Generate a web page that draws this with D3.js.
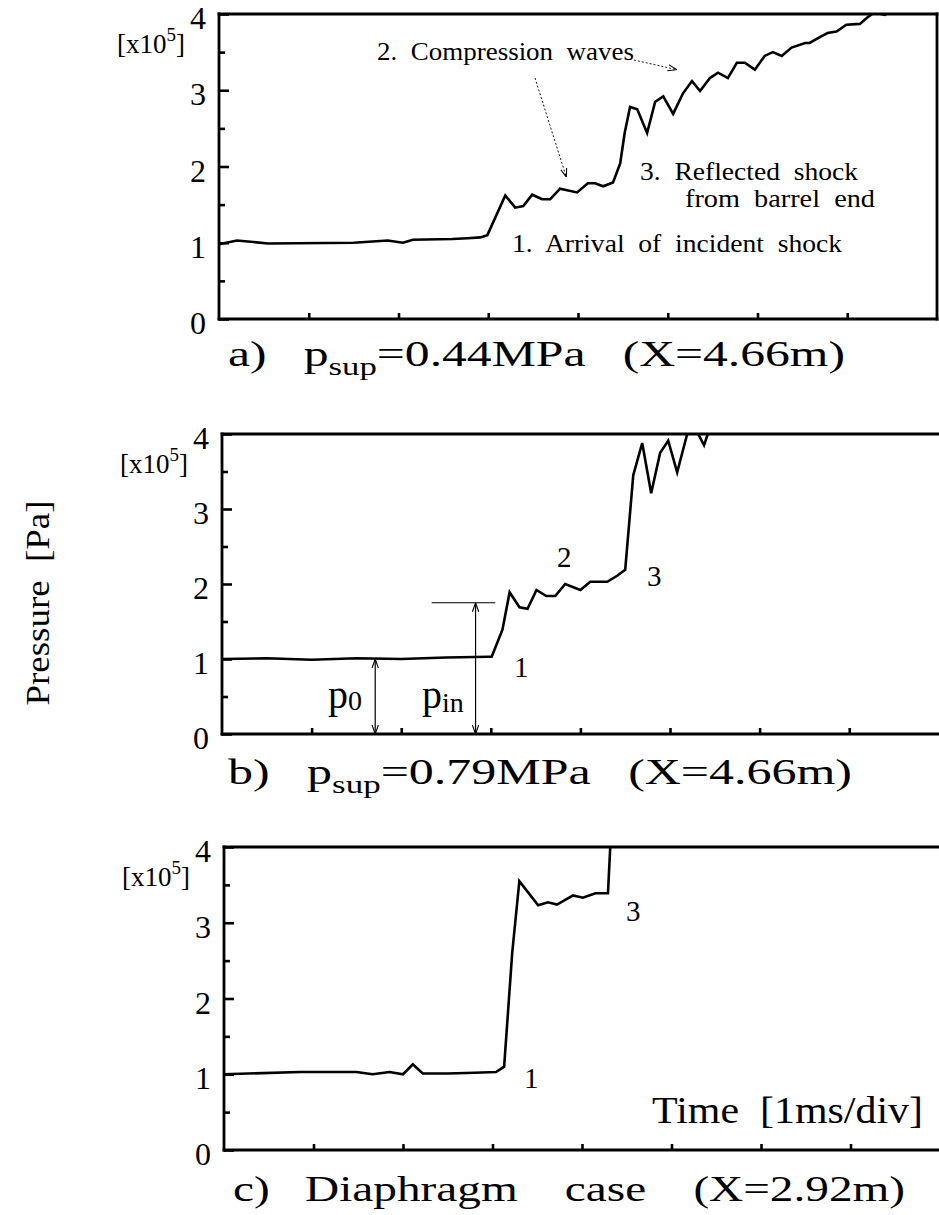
<!DOCTYPE html>
<html>
<head>
<meta charset="utf-8">
<script src="https://cdn.jsdelivr.net/npm/d3@7"></script>
<style>
  body { margin: 0; background: #fff; }
  svg { display: block; }
  text { font-family: "Liberation Serif", "DejaVu Serif", serif; fill: #000; white-space: pre; }
</style>
</head>
<body>
<svg id="chart" width="939" height="1215"></svg>
<script>
// Pressure histories: time in divisions (1 ms/div), pressure in units of 1e5 Pa.

// a) p_sup = 0.44 MPa, X = 4.66 m
const timeA = [0, 0.2, 0.55, 1.5, 1.88, 2.05, 2.16, 2.6, 2.77, 2.91, 2.99,
  3.19, 3.30, 3.39, 3.49, 3.60, 3.69, 3.80, 3.99, 4.11, 4.19, 4.28, 4.39,
  4.47, 4.52, 4.58, 4.66, 4.77, 4.86, 4.95, 5.06, 5.17, 5.27, 5.36, 5.47,
  5.56, 5.67, 5.77, 5.86, 5.97, 6.08, 6.17, 6.27, 6.38, 6.53, 6.58, 6.70,
  6.78, 6.88, 6.99, 7.14, 7.22, 7.30, 7.42, 7.55];
const pressureA = [0.98, 1.03, 0.99, 1.0, 1.03, 1.0, 1.04, 1.05, 1.06, 1.07, 1.10,
  1.62, 1.46, 1.48, 1.63, 1.57, 1.57, 1.71, 1.66, 1.78, 1.78, 1.74, 1.79,
  2.04, 2.44, 2.78, 2.75, 2.44, 2.85, 2.92, 2.69, 2.96, 3.12, 2.99, 3.16,
  3.23, 3.16, 3.36, 3.36, 3.27, 3.45, 3.50, 3.45, 3.56, 3.62, 3.62, 3.70,
  3.75, 3.77, 3.86, 3.87, 3.95, 4.02, 3.99, 4.10];

// b) p_sup = 0.79 MPa, X = 4.66 m
const timeB = [0, 0.5, 1.0, 1.5, 2.0, 2.5, 2.98, 3.01, 3.13, 3.21, 3.32, 3.41,
  3.51, 3.62, 3.72, 3.83, 4.00, 4.11, 4.30, 4.41, 4.50, 4.59, 4.69, 4.79,
  4.89, 4.98, 5.08, 5.19, 5.28, 5.38, 5.45, 5.60];
const pressureB = [1.0, 1.01, 0.99, 1.01, 1.0, 1.02, 1.03, 1.03, 1.39, 1.89, 1.69, 1.67,
  1.92, 1.84, 1.84, 2.0, 1.92, 2.03, 2.03, 2.11, 2.19, 3.45, 3.88, 3.21,
  3.75, 3.91, 3.49, 3.99, 4.08, 3.85, 4.10, 4.20];

// c) diaphragm case, X = 2.92 m
const timeC = [0, 0.85, 1.48, 1.66, 1.85, 2.0, 2.11, 2.22, 2.5, 2.8, 3.04,
  3.13, 3.22, 3.30, 3.51, 3.62, 3.72, 3.90, 4.01, 4.15, 4.29, 4.32];
const pressureC = [1.0, 1.03, 1.03, 1.0, 1.03, 1.0, 1.13, 1.01, 1.01, 1.02, 1.03,
  1.1, 2.6, 3.55, 3.23, 3.27, 3.24, 3.36, 3.33, 3.39, 3.39, 4.1];

// reference levels marked in panel b
const p0Level = 1.0;
const pinLevel = 1.75;

const yTicks = [0, 1, 2, 3, 4];
const yMinorTicks = [0.5, 1.5, 2.5, 3.5];
const xTicks = [1, 2, 3, 4, 5, 6, 7];
const yTickLabels = ["0", "1", "2", "3", "4"];

const svg = d3.select("#chart");
svg.append("rect").attr("width", 939).attr("height", 1215).attr("fill", "#fff");

const defs = svg.append("defs");
defs.append("marker").attr("id", "arrowThin")
  .attr("viewBox", "0 0 10 10").attr("refX", 10).attr("refY", 5)
  .attr("markerWidth", 9).attr("markerHeight", 9).attr("orient", "auto-start-reverse")
  .attr("markerUnits", "userSpaceOnUse")
  .append("path").attr("d", "M0,1.5 L10,5 L0,8.5").attr("fill", "none")
  .attr("stroke", "#000").attr("stroke-width", 1.2);

function drawPanel(id, frame, time, pressure, showRight) {
  const g = svg.append("g").attr("class", "panel-" + id);
  const x = d3.scaleLinear().domain([0, 8]).range([frame.left, frame.left + 8 * frame.div]);
  const y = d3.scaleLinear().domain([0, 4]).range([frame.bottom, frame.top]);

  defs.append("clipPath").attr("id", "clip-" + id)
    .append("rect").attr("x", frame.left).attr("y", frame.top)
    .attr("width", frame.right - frame.left).attr("height", frame.bottom - frame.top);

  // y axis: major ticks with labels, minor ticks at halves, all pointing inward
  const yAxis = g.append("g").attr("transform", `translate(${frame.left},0)`)
    .call(d3.axisLeft(y).tickValues(yTicks).tickSize(-10).tickPadding(13)
      .tickFormat((d, i) => yTickLabels[i]));
  yAxis.attr("font-family", null);
  yAxis.select(".domain").remove();
  yAxis.selectAll("line").attr("stroke", "#000").attr("stroke-width", 2.6);
  yAxis.selectAll("text").style("font-size", "32px").attr("fill", "#000").attr("dy", "0.46em");

  const yMinor = g.append("g").attr("transform", `translate(${frame.left},0)`)
    .call(d3.axisLeft(y).tickValues(yMinorTicks).tickSize(-6).tickFormat(""));
  yMinor.select(".domain").remove();
  yMinor.selectAll("text").remove();
  yMinor.selectAll("line").attr("stroke", "#000").attr("stroke-width", 2.6);

  const xAxis = g.append("g").attr("transform", `translate(0,${frame.bottom})`)
    .call(d3.axisBottom(x).tickValues(xTicks).tickSize(-6).tickFormat(""));
  xAxis.select(".domain").remove();
  xAxis.selectAll("text").remove();
  xAxis.selectAll("line").attr("stroke", "#000").attr("stroke-width", 2.6);

  // frame
  const frameLines = [
    [frame.left, frame.top, frame.left, frame.bottom],
    [frame.left, frame.top, frame.right, frame.top],
    [frame.left, frame.bottom, frame.right, frame.bottom]
  ];
  if (showRight) frameLines.push([frame.right, frame.top, frame.right, frame.bottom]);
  g.selectAll("line.frame").data(frameLines).join("line").attr("class", "frame")
    .attr("x1", d => d[0]).attr("y1", d => d[1]).attr("x2", d => d[2]).attr("y2", d => d[3])
    .attr("stroke", "#000").attr("stroke-width", 2.8).attr("stroke-linecap", "square");

  // exponent label
  const ex = g.append("text").attr("x", frame.left - 34).attr("y", frame.top + 39)
    .attr("text-anchor", "end").style("font-size", "27px");
  ex.append("tspan").text("[x10");
  ex.append("tspan").attr("dy", -12).style("font-size", "19px").text("5");
  ex.append("tspan").attr("dy", 12).text("]");

  // pressure trace
  const pts = time.map((t, i) => [t, pressure[i]]);
  g.append("path").datum(pts)
    .attr("clip-path", `url(#clip-${id})`)
    .attr("d", d3.line().x(d => x(d[0])).y(d => y(d[1])))
    .attr("fill", "none").attr("stroke", "#000").attr("stroke-width", 2.6)
    .attr("stroke-linejoin", "miter");

  return { g, x, y };
}

// caption: lead text, subscript, tail text; stretched to a set width
function caption(x, y, lead, sub, tail, size, width) {
  const t = svg.append("text").attr("x", x).attr("y", y).style("font-size", size + "px");
  t.append("tspan").text(lead);
  if (sub) {
    t.append("tspan").attr("dy", 9).style("font-size", (size * 0.7) + "px").text(sub);
    t.append("tspan").attr("dy", -9).text(tail);
  }
  t.attr("textLength", width).attr("lengthAdjust", "spacingAndGlyphs");
  return t;
}

function label(parent, x, y, str, size, width) {
  const t = parent.append("text").attr("x", x).attr("y", y).style("font-size", size + "px").text(str);
  if (width) t.attr("textLength", width).attr("lengthAdjust", "spacingAndGlyphs");
  return t;
}

// ---- panel a ----
const A = drawPanel("a", { left: 219, right: 937, top: 14, bottom: 319, div: 89.75 }, timeA, pressureA, true);
label(A.g, 377, 60, "2.  Compression  waves", 25, 257);
label(A.g, 640, 180, "3.  Reflected  shock", 25, 218);
label(A.g, 685, 207, "from  barrel  end", 25, 190);
label(A.g, 512, 252, "1.  Arrival  of  incident  shock", 25, 330);
A.g.append("line").attr("x1", 634).attr("y1", 60).attr("x2", A.x(5.1)).attr("y2", A.y(3.27))
  .attr("stroke", "#000").attr("stroke-width", 0.9).attr("stroke-dasharray", "2,2")
  .attr("marker-end", "url(#arrowThin)");
A.g.append("line").attr("x1", 535).attr("y1", 78).attr("x2", A.x(3.87)).attr("y2", A.y(1.86))
  .attr("stroke", "#000").attr("stroke-width", 0.9).attr("stroke-dasharray", "2,2")
  .attr("marker-end", "url(#arrowThin)");
caption(228, 366, "a)   p", "sup", "=0.44MPa   (X=4.66m)", 36, 617);

// ---- panel b ----
const B = drawPanel("b", { left: 222, right: 939, top: 434, bottom: 734, div: 89.6 }, timeB, pressureB, false);
const annB = B.g.append("g").style("font-size", "29px");
annB.append("text").attr("x", 557).attr("y", 567).text("2");
annB.append("text").attr("x", 647).attr("y", 586).text("3");
annB.append("text").attr("x", 514).attr("y", 677).text("1");
// p0 and pin arrows
const p0t = 1.71, pint = 2.83;
B.g.append("line").attr("x1", B.x(p0t)).attr("x2", B.x(p0t))
  .attr("y1", B.y(0)).attr("y2", B.y(p0Level))
  .attr("stroke", "#000").attr("stroke-width", 1.2)
  .attr("marker-start", "url(#arrowThin)").attr("marker-end", "url(#arrowThin)");
B.g.append("line").attr("x1", B.x(pint)).attr("x2", B.x(pint))
  .attr("y1", B.y(0)).attr("y2", B.y(pinLevel))
  .attr("stroke", "#000").attr("stroke-width", 1.2)
  .attr("marker-start", "url(#arrowThin)").attr("marker-end", "url(#arrowThin)");
B.g.append("line").attr("x1", B.x(2.34)).attr("x2", B.x(3.05))
  .attr("y1", B.y(pinLevel)).attr("y2", B.y(pinLevel))
  .attr("stroke", "#000").attr("stroke-width", 1.2);
const p0Label = B.g.append("text").attr("x", 328).attr("y", 708).style("font-size", "40px");
p0Label.append("tspan").text("p");
p0Label.append("tspan").attr("dy", 2).style("font-size", "28px").text("0");
const pinLabel = B.g.append("text").attr("x", 422).attr("y", 708).style("font-size", "40px");
pinLabel.append("tspan").text("p");
pinLabel.append("tspan").attr("dy", 4).style("font-size", "28px").text("in");
caption(228, 784, "b)   p", "sup", "=0.79MPa   (X=4.66m)", 36, 624);

// ---- panel c ----
const C = drawPanel("c", { left: 224, right: 939, top: 847, bottom: 1150, div: 89.5 }, timeC, pressureC, false);
const annC = C.g.append("g").style("font-size", "29px");
annC.append("text").attr("x", 524).attr("y", 1088).text("1");
annC.append("text").attr("x", 626).attr("y", 921).text("3");
label(C.g, 652, 1123, "Time  [1ms/div]", 38, 271);
caption(233, 1201, "c)   Diaphragm    case    (X=2.92m)", null, null, 36, 672);

// shared y-axis title
svg.append("text").attr("transform", "translate(49,603) rotate(-90)")
  .attr("text-anchor", "middle").style("font-size", "33px")
  .attr("textLength", 205).attr("lengthAdjust", "spacingAndGlyphs").text("Pressure  [Pa]");
</script>
</body>
</html>
